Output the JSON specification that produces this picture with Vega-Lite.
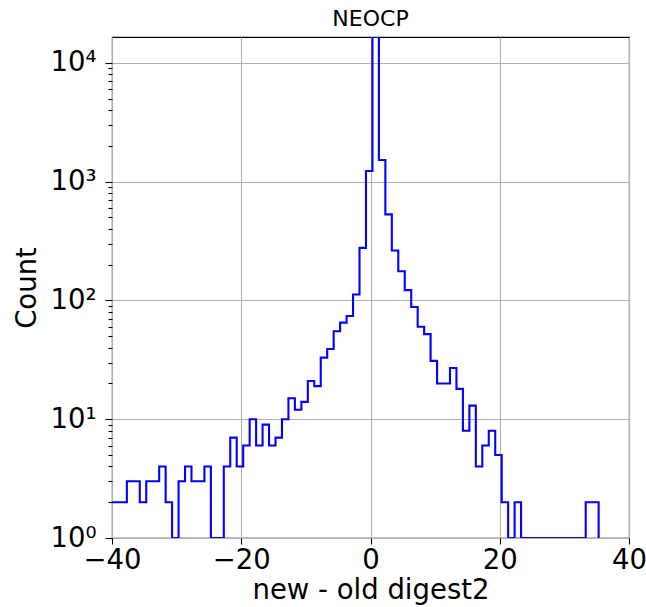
{
  "$schema": "https://vega.github.io/schema/vega-lite/v6.json",
  "width": 517,
  "height": 501,
  "autosize": {"type": "none"},
  "padding": {"left": 112, "top": 37, "right": 17, "bottom": 69},
  "background": "white",
  "title": {"text": "NEOCP", "font": "DejaVu Sans", "fontSize": 22, "fontWeight": "normal", "color": "black", "offset": 6},
  "data": {"values": [
    {"edge": -40.7, "count": 2}, {"edge": -39.7, "count": 2}, {"edge": -38.7, "count": 2},
    {"edge": -37.7, "count": 3}, {"edge": -36.7, "count": 3}, {"edge": -35.7, "count": 2},
    {"edge": -34.7, "count": 3}, {"edge": -33.7, "count": 3}, {"edge": -32.7, "count": 4},
    {"edge": -31.7, "count": 2}, {"edge": -30.7, "count": 0}, {"edge": -29.7, "count": 3},
    {"edge": -28.7, "count": 4}, {"edge": -27.7, "count": 3}, {"edge": -26.7, "count": 3},
    {"edge": -25.7, "count": 4}, {"edge": -24.7, "count": 1}, {"edge": -23.7, "count": 1},
    {"edge": -22.7, "count": 4}, {"edge": -21.7, "count": 7}, {"edge": -20.7, "count": 4},
    {"edge": -19.7, "count": 6}, {"edge": -18.7, "count": 10}, {"edge": -17.7, "count": 6},
    {"edge": -16.7, "count": 9}, {"edge": -15.7, "count": 6}, {"edge": -14.7, "count": 7},
    {"edge": -13.7, "count": 10}, {"edge": -12.7, "count": 15}, {"edge": -11.7, "count": 12},
    {"edge": -10.7, "count": 14}, {"edge": -9.7, "count": 21}, {"edge": -8.7, "count": 19},
    {"edge": -7.7, "count": 33}, {"edge": -6.7, "count": 39}, {"edge": -5.7, "count": 55},
    {"edge": -4.7, "count": 65}, {"edge": -3.7, "count": 74}, {"edge": -2.7, "count": 112},
    {"edge": -1.7, "count": 277}, {"edge": -0.7, "count": 1230}, {"edge": 0.3, "count": 17000},
    {"edge": 1.3, "count": 1520}, {"edge": 2.3, "count": 530}, {"edge": 3.3, "count": 263},
    {"edge": 4.3, "count": 176}, {"edge": 5.3, "count": 122}, {"edge": 6.3, "count": 88},
    {"edge": 7.3, "count": 60}, {"edge": 8.3, "count": 52}, {"edge": 9.3, "count": 31},
    {"edge": 10.3, "count": 20}, {"edge": 11.3, "count": 20}, {"edge": 12.3, "count": 27},
    {"edge": 13.3, "count": 18}, {"edge": 14.3, "count": 8}, {"edge": 15.3, "count": 13},
    {"edge": 16.3, "count": 4}, {"edge": 17.3, "count": 6}, {"edge": 18.3, "count": 8},
    {"edge": 19.3, "count": 5}, {"edge": 20.3, "count": 2}, {"edge": 21.3, "count": 0},
    {"edge": 22.3, "count": 2}, {"edge": 23.3, "count": 1}, {"edge": 24.3, "count": 0},
    {"edge": 25.3, "count": 0}, {"edge": 26.3, "count": 1}, {"edge": 27.3, "count": 1},
    {"edge": 28.3, "count": 0}, {"edge": 29.3, "count": 0}, {"edge": 30.3, "count": 1},
    {"edge": 31.3, "count": 1}, {"edge": 32.3, "count": 0}, {"edge": 33.3, "count": 2},
    {"edge": 34.3, "count": 2}, {"edge": 35.3, "count": 0}
  ]},
  "config": {
    "view": {"stroke": "black", "strokeWidth": 1.1},
    "axis": {
      "domain": false,
      "labelFont": "DejaVu Sans", "labelFontSize": 27.5, "labelColor": "black",
      "titleFont": "DejaVu Sans", "titleFontSize": 27.5, "titleFontWeight": "normal", "titleColor": "black",
      "tickColor": "black", "tickWidth": 1.1,
      "gridColor": "#b0b0b0", "gridWidth": 1.1, "gridOpacity": 1
    }
  },
  "mark": {"type": "line", "interpolate": "step-after", "color": "#0000ff", "strokeWidth": 2.1, "clip": true, "invalid": "show"},
  "encoding": {
    "x": {"field": "edge", "type": "quantitative",
          "scale": {"domain": [-40, 40], "nice": false, "zero": false},
          "axis": {"values": [-40, -20, 0, 20, 40], "title": "new - old digest2", "grid": true,
                   "tickSize": 6, "labelPadding": 2, "labelFlush": false, "labelOverlap": false, "titlePadding": 3}},
    "y": {"field": "count", "type": "quantitative",
          "scale": {"type": "log", "domain": [1, 16500], "clamp": true, "nice": false},
          "axis": {"values": [1,2,3,4,5,6,7,8,9,10,20,30,40,50,60,70,80,90,100,200,300,400,500,600,700,800,900,1000,2000,3000,4000,5000,6000,7000,8000,9000,10000],
                   "title": "Count", "grid": true, "labelOverlap": false,
                   "tickSize": {"condition": {"test": "indexof([1,10,100,1000,10000], datum.value) >= 0", "value": 7}, "value": 4},
                   "gridOpacity": {"condition": {"test": "indexof([1,10,100,1000,10000], datum.value) >= 0", "value": 1}, "value": 0},
                   "labelPadding": 9, "titlePadding": 8,
                   "labelExpr": "datum.value == 1 ? '10⁰' : datum.value == 10 ? '10¹' : datum.value == 100 ? '10²' : datum.value == 1000 ? '10³' : datum.value == 10000 ? '10⁴' : ''"}}
  }
}
